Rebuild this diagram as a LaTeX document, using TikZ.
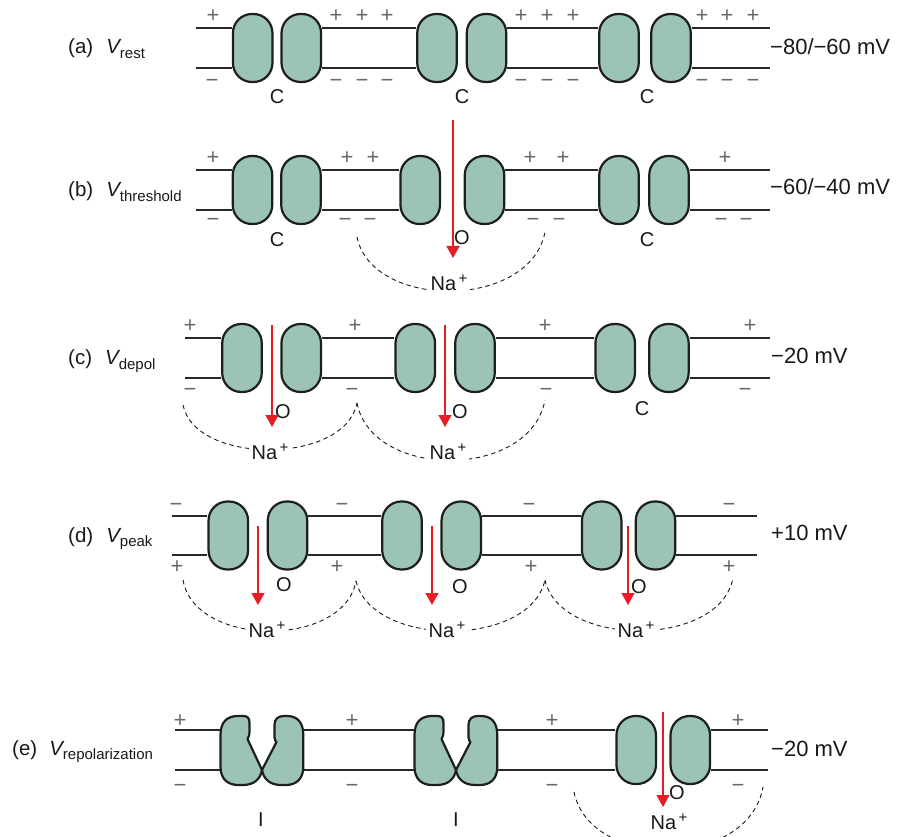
\documentclass[tikz,border=0pt]{standalone}
\usepackage{fontspec}
\setmainfont{Liberation Sans}
\usetikzlibrary{arrows.meta}
\definecolor{chanfill}{RGB}{155,196,180}
\definecolor{chanline}{RGB}{30,30,30}
\definecolor{memline}{RGB}{40,40,40}
\definecolor{chargecol}{RGB}{105,105,105}
\definecolor{flowred}{RGB}{232,28,36}
\definecolor{inkcol}{RGB}{25,25,25}
\pgfdeclarelayer{bg}
\pgfsetlayers{bg,main}
% V with an upright subscript
\newcommand\vsub[1]{{\itshape V}\raisebox{-4.5pt}{\fontsize{15pt}{15pt}\selectfont #1}}
% sodium ion
\newcommand\naion{Na\raisebox{7pt}{\fontsize{15pt}{15pt}\selectfont\,+}}
% inactivated channel: two subunits meeting in a point on the inner leaflet
\newcommand\inactchan[1]{%
  \begin{scope}[shift={(#1,0)}]
    \filldraw[inact] (0,770) -- (-14.5,739) .. controls (-13.2,737) and (-12.5,735) .. (-12.5,731)
      -- (-12.5,723) .. controls (-12.5,718) and (-14.5,716) .. (-19,716) -- (-24,716)
      .. controls (-35,716) and (-41.5,722) .. (-41.5,735) -- (-41.5,767)
      .. controls (-41.5,779) and (-34,785) .. (-24,785) -- (-19,785)
      .. controls (-8,785) and (-1.5,779) .. (0,770) -- cycle;
    \filldraw[inact] (0,770) -- (14.5,742) .. controls (13.5,741) and (12.5,740) .. (12.5,737)
      -- (12.5,725) .. controls (12.5,719) and (16,716) .. (22,716) -- (25,716)
      .. controls (35,716) and (41.3,722) .. (41.3,735) -- (41.3,767)
      .. controls (41.3,779) and (34,785) .. (24,785) -- (19,785)
      .. controls (8,785) and (1.5,779) .. (0,770) -- cycle;
  \end{scope}}
\begin{document}
\begin{tikzpicture}[x=1pt,y=-1pt,
  blob/.style={draw=chanline, fill=chanfill, line width=2.2pt, rounded corners=19pt,
    inner sep=0pt, minimum width=39.5pt, minimum height=68pt},
  inact/.style={draw=chanline, fill=chanfill, line width=2.2pt, line join=round},
  mem/.style={draw=memline, line width=1.4pt},
  flow/.style={draw=flowred, line width=1.4pt, -{Triangle[width=13pt,length=12pt]}},
  current/.style={draw=inkcol, line width=0.9pt, dash pattern=on 4.5pt off 3.5pt},
  state/.style={text=inkcol, font=\fontsize{20pt}{24pt}\selectfont, inner sep=0pt},
  ion/.style={text=inkcol, font=\fontsize{20pt}{24pt}\selectfont, fill=white, inner sep=3pt},
  rowlab/.style={text=inkcol, font=\fontsize{20.5pt}{24pt}\selectfont, inner sep=0pt, anchor=base west},
  volt/.style={text=inkcol, font=\fontsize{22pt}{26pt}\selectfont, inner sep=0pt, anchor=base west},
  chg/.style={text=chargecol, font=\fontsize{22pt}{26pt}\selectfont, inner sep=0pt, anchor=base},
]
\useasboundingbox (0,0) rectangle (898,837);
\clip (0,0) rectangle (898,837);

% ================= (a) resting =================
\node[rowlab] (labA) at (68,54) {(a)\hspace{13pt}\vsub{rest}};
\node[volt] (vA) at (770,55) {−80/−60 mV};
\node[blob] (a1l) at (252.7,48) {};
\node[blob] (a1r) at (301.3,48) {};
\node[blob] (a2l) at (437,48) {};
\node[blob] (a2r) at (486.5,48) {};
\node[blob] (a3l) at (619,48) {};
\node[blob] (a3r) at (671,48) {};
\begin{pgfonlayer}{bg}
\foreach \yy in {28,68}
  \draw[mem] (196,\yy) -- (a1l.west |- 0,\yy) (a1r.east |- 0,\yy) -- (a2l.west |- 0,\yy)
    (a2r.east |- 0,\yy) -- (a3l.west |- 0,\yy) (a3r.east |- 0,\yy) -- (770,\yy);
\end{pgfonlayer}
\node[state] (sA1) at (277,97) {C};
\node[state] (sA2) at (462,97) {C};
\node[state] (sA3) at (647,97) {C};
\foreach \xx [count=\i] in {213,336,362,387,521,547,573,702,727,753}
  \node[chg] (pa\i) at (\xx,22.7) {+};
\foreach \xx [count=\i] in {212,336,362,387,521,547,573,702,727,753}
  \node[chg] (ma\i) at (\xx,88) {−};

% ================= (b) threshold =================
\node[rowlab] (labB) at (68,197) {(b)\hspace{13pt}\vsub{threshold}};
\node[volt] (vB) at (770,195) {−60/−40 mV};
\node[blob] (b1l) at (252.5,190) {};
\node[blob] (b1r) at (301,190) {};
\node[blob] (b2l) at (420.2,190) {};
\node[blob] (b2r) at (484.5,190) {};
\node[blob] (b3l) at (619,190) {};
\node[blob] (b3r) at (669,190) {};
\begin{pgfonlayer}{bg}
\foreach \yy in {170,210}
  \draw[mem] (196,\yy) -- (b1l.west |- 0,\yy) (b1r.east |- 0,\yy) -- (b2l.west |- 0,\yy)
    (b2r.east |- 0,\yy) -- (b3l.west |- 0,\yy) (b3r.east |- 0,\yy) -- (770,\yy);
\coordinate (bC0) at (357,237);
\coordinate (bC1) at (545,232);
\draw[current] (bC0) .. controls (372,310) and (530,310) .. (bC1);
\end{pgfonlayer}
\node[state] (sB1) at (277,240) {C};
\node[state] (sB2) at (462,238) {O};
\node[state] (sB3) at (647,240) {C};
\node[ion] (naB) at (449,283) {\naion};
\coordinate (fB0) at (453,120);
\coordinate (fB1) at (453,258);
\draw[flow] (fB0) -- (fB1);
\foreach \xx [count=\i] in {213,347,373,530,563,725}
  \node[chg] (pb\i) at (\xx,164.7) {+};
\foreach \xx [count=\i] in {213,345,370,533,559,721,746}
  \node[chg] (mb\i) at (\xx,227) {−};

% ================= (c) depolarising =================
\node[rowlab] (labC) at (68,365) {(c)\hspace{13pt}\vsub{depol}};
\node[volt] (vC) at (771,364) {−20 mV};
\node[blob] (c1l) at (242,358) {};
\node[blob] (c1r) at (301.2,358) {};
\node[blob] (c2l) at (415.3,358) {};
\node[blob] (c2r) at (475,358) {};
\node[blob] (c3l) at (615.2,358) {};
\node[blob] (c3r) at (668.9,358) {};
\begin{pgfonlayer}{bg}
\foreach \yy in {338,378}
  \draw[mem] (185,\yy) -- (c1l.west |- 0,\yy) (c1r.east |- 0,\yy) -- (c2l.west |- 0,\yy)
    (c2r.east |- 0,\yy) -- (c3l.west |- 0,\yy) (c3r.east |- 0,\yy) -- (770,\yy);
\coordinate (cC0) at (183,405);
\coordinate (cC1) at (357,403);
\coordinate (cC2) at (545,400);
\draw[current] (cC0) .. controls (195,465) and (345,465) .. (cC1);
\draw[current] (cC1) .. controls (372,480) and (530,480) .. (cC2);
\end{pgfonlayer}
\node[state] (sC1) at (283,412) {O};
\node[state] (sC2) at (460,412) {O};
\node[state] (sC3) at (642,409) {C};
\node[ion] (naC1) at (270,452) {\naion};
\node[ion] (naC2) at (448,452) {\naion};
\coordinate (fC0) at (272,325);
\coordinate (fC1) at (272,427);
\coordinate (fC2) at (445,325);
\coordinate (fC3) at (445,427);
\draw[flow] (fC0) -- (fC1);
\draw[flow] (fC2) -- (fC3);
\foreach \xx [count=\i] in {190,355,545,750}
  \node[chg] (pc\i) at (\xx,332.7) {+};
\foreach \xx [count=\i] in {190,352,546,745}
  \node[chg] (mc\i) at (\xx,396) {−};

% ================= (d) peak =================
\node[rowlab] (labD) at (68,542) {(d)\hspace{13pt}\vsub{peak}};
\node[volt] (vD) at (771,540) {+10 mV};
\node[blob] (d1l) at (228.3,535.5) {};
\node[blob] (d1r) at (287.5,535.5) {};
\node[blob] (d2l) at (402,535.5) {};
\node[blob] (d2r) at (461.3,535.5) {};
\node[blob] (d3l) at (601.7,535.5) {};
\node[blob] (d3r) at (655.5,535.5) {};
\begin{pgfonlayer}{bg}
\foreach \yy in {516,555}
  \draw[mem] (172,\yy) -- (d1l.west |- 0,\yy) (d1r.east |- 0,\yy) -- (d2l.west |- 0,\yy)
    (d2r.east |- 0,\yy) -- (d3l.west |- 0,\yy) (d3r.east |- 0,\yy) -- (757,\yy);
\coordinate (dC0) at (183,580);
\coordinate (dC1) at (356,581);
\coordinate (dC2) at (545,580);
\coordinate (dC3) at (733,578);
\draw[current] (dC0) .. controls (195,648) and (344,648) .. (dC1);
\draw[current] (dC1) .. controls (372,648) and (530,648) .. (dC2);
\draw[current] (dC2) .. controls (560,648) and (720,648) .. (dC3);
\end{pgfonlayer}
\node[state] (sD1) at (284,585) {O};
\node[state] (sD2) at (460,587) {O};
\node[state] (sD3) at (639,587) {O};
\node[ion] (naD1) at (267,630) {\naion};
\node[ion] (naD2) at (447,630) {\naion};
\node[ion] (naD3) at (636,630) {\naion};
\coordinate (fD0) at (258,526);
\coordinate (fD1) at (258,605);
\coordinate (fD2) at (432,526);
\coordinate (fD3) at (432,605);
\coordinate (fD4) at (628,526);
\coordinate (fD5) at (628,605);
\draw[flow] (fD0) -- (fD1);
\draw[flow] (fD2) -- (fD3);
\draw[flow] (fD4) -- (fD5);
\foreach \xx [count=\i] in {176,342,529,729}
  \node[chg] (md\i) at (\xx,511) {−};
\foreach \xx [count=\i] in {177,337,531,729}
  \node[chg] (pd\i) at (\xx,573.7) {+};

% ================= (e) repolarisation =================
\node[rowlab] (labE) at (12,755) {(e)\hspace{12pt}\vsub{repolarization}};
\node[volt] (vE) at (771,756) {−20 mV};
\coordinate (e1) at (262,750);
\coordinate (e2) at (456,750);
\node[blob] (e3l) at (636.2,750) {};
\node[blob] (e3r) at (690.3,750) {};
\begin{pgfonlayer}{bg}
\foreach \yy in {730,770}
  \draw[mem] (175,\yy) -- ([xshift=-30pt]e1 |- 0,\yy) ([xshift=30pt]e1 |- 0,\yy) -- ([xshift=-30pt]e2 |- 0,\yy)
    ([xshift=30pt]e2 |- 0,\yy) -- (e3l.west |- 0,\yy) (e3r.east |- 0,\yy) -- (768,\yy);
\coordinate (eC0) at (574,792);
\coordinate (eC1) at (763,787);
\draw[current] (eC0) .. controls (590,870) and (748,870) .. (eC1);
\end{pgfonlayer}
\inactchan{262}
\inactchan{456}
\node[state] (sE1) at (261,820) {I};
\node[state] (sE2) at (456,820) {I};
\node[state] (sE3) at (677,793) {O};
\node[ion] (naE) at (669,822) {\naion};
\coordinate (fE0) at (663,712);
\coordinate (fE1) at (663,807);
\draw[flow] (fE0) -- (fE1);
\foreach \xx [count=\i] in {180,352,552,738}
  \node[chg] (pe\i) at (\xx,727.7) {+};
\foreach \xx [count=\i] in {180,352,552,738}
  \node[chg] (me\i) at (\xx,792) {−};
\end{tikzpicture}
\end{document}
